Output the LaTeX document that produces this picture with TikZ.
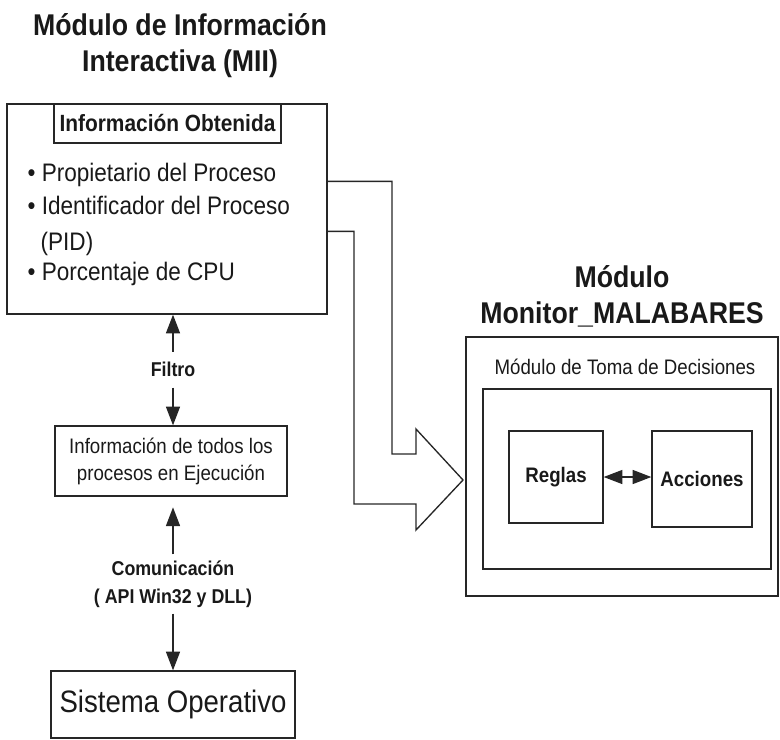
\documentclass[tikz,border=0pt]{standalone}
\usepackage{fontspec}
\setmainfont{Liberation Sans}[FakeStretch=0.89]
\usetikzlibrary{arrows.meta,positioning,calc}
\begin{document}
\begin{tikzpicture}[x=0.75pt,y=-0.75pt, line width=1pt, black!85,
  box/.style={draw, inner sep=0pt},
  tip/.style={-{Triangle[length=14pt,width=10.5pt]}},
  titulo/.style={font=\fontsize{22.5}{27}\selectfont\bfseries, align=center, inner sep=0pt, text=black!90},
  etiq/.style={font=\fontsize{15}{21}\selectfont\bfseries, align=center, inner sep=0pt, text=black!90},
  texto/.style={font=\fontsize{15.75}{20.25}\selectfont, align=center, text=black!90},
  punto/.style={font=\fontsize{19}{22}\selectfont, anchor=base west, inner sep=0pt, text=black!90}]
\useasboundingbox (0,0) rectangle (780,739);
\node[titulo] (tmii) at (180,45.5) {Módulo de Información\\Interactiva (MII)};
\node[box, minimum width=240pt, minimum height=157.5pt] (mii) at (167,209) {};
\node[box, minimum width=170.25pt, minimum height=29.25pt, font=\fontsize{17.6}{20}\selectfont\bfseries, text=black!90] (obt) at (167.5,123.5) {Información Obtenida};
\node[punto] (p1) at (27,181) {\textbullet\ Propietario del Proceso};
\node[punto] (p2) at (27,214) {\textbullet\ Identificador del Proceso};
\node[punto] (p3) at (40,250) {(PID)};
\node[punto] (p4) at (27,280) {\textbullet\ Porcentaje de CPU};
\node[etiq, minimum height=26pt] (filtro) at (173,369.5) {Filtro};
\node[box, texto, minimum width=174pt, minimum height=52.5pt] (todos) at (171,461) {Información de todos los\\procesos en Ejecución};
\node[etiq, minimum height=43.5pt] (com) at (173,584) {Comunicación\\( API Win32 y DLL)};
\node[box, minimum width=183pt, minimum height=50.25pt, font=\fontsize{23.25}{28}\selectfont, text=black!90] (so) at (173,704.5) {Sistema Operativo};
\draw[tip] (filtro.north) -- (filtro.north |- mii.south);
\draw[tip] (filtro.south) -- (filtro.south |- todos.north);
\draw[tip, shorten >=8pt] (com.north) -- (com.north |- todos.south);
\draw[tip] (com.south) -- (com.south |- so.north);
\node[titulo] (tmon) at (622,296.5) {Módulo\\Monitor\_MALABARES};
\node[box, minimum width=234pt, minimum height=194.25pt] (mon) at (622,466.5) {};
\node[texto, inner sep=0pt] (tdec) at (625,367) {Módulo de Toma de Decisiones};
\node[box, minimum width=216pt, minimum height=135pt] (dec) at (627,479) {};
\node[box, etiq, minimum width=70.5pt, minimum height=69pt, font=\fontsize{15.75}{20}\selectfont\bfseries] (reglas) at (556,477) {Reglas};
\node[box, etiq, minimum width=75pt, minimum height=72pt, font=\fontsize{15.75}{20}\selectfont\bfseries] (acciones) at (702,479) {Acciones};
\draw[{Triangle[length=14pt,width=10.5pt]}-{Triangle[length=14pt,width=10.5pt]}] (reglas.east) -- (reglas.east -| acciones.west);
\draw ($(mii.north east)+(0,78)$) -| (392,454) -- (416,454) -- (416,429) -- (463,480) -- (416,530) -- (416,504) -- (354,504) |- ($(mii.north east)+(0,128)$);
\end{tikzpicture}
\end{document}
